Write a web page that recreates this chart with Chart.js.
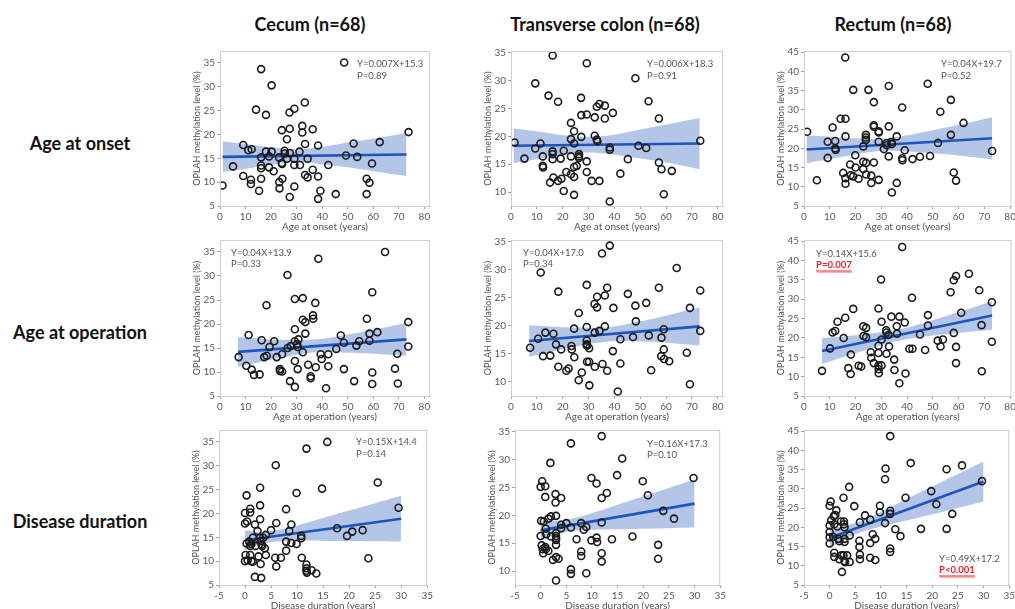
<!DOCTYPE html>
<html><head><meta charset="utf-8">
<script src="https://cdn.jsdelivr.net/npm/chart.js@4"></script>
<style>
body{margin:0;width:1015px;height:609px;background:#fff;position:relative;overflow:hidden;font-family:Lato,"Open Sans",sans-serif}
.t{position:absolute;font-weight:bold;font-size:18px;color:#111;white-space:nowrap;transform:translate(-50%,-50%)}
canvas{position:absolute}
</style></head><body>
<script>
// ---------- titles ----------
const colTitles = ['Cecum (n=68)', 'Transverse colon (n=68)', 'Rectum (n=68)'];
const rowTitles = ['Age at onset', 'Age at operation', 'Disease duration'];
const xTitles = ['Age at onset (years)', 'Age at operation (years)', 'Disease duration (years)'];
const yTitle = 'OPLAH methylation level (%)';

// ---------- tick labels ----------
const ageTicks = [0, 10, 20, 30, 40, 50, 60, 70, 80];
const durTicks = [-5, 0, 5, 10, 15, 20, 25, 30, 35];
const cecumTicks = [5, 10, 15, 20, 25, 30, 35];
const transTicks = [10, 15, 20, 25, 30, 35];
const rectumTicks = [5, 10, 15, 20, 25, 30, 35, 40, 45];

// ---------- Age at onset ----------
const onsetCecumX = [1,5.1,9.1,9.1,11.1,12.4,12.1,12.1,14.1,15.3,16.1,16.1,16.1,16.1,16.1,18,18,19.2,20.2,20.2,21,19.2,23.1,23.2,23.3,24.2,24.2,24.3,24.4,25.3,26.2,26.2,27.2,27.3,27.3,27.3,29.1,29.1,29.1,29.1,31.1,32.2,32.2,33.2,33.3,33.3,34.3,34.3,36.3,36.3,38.4,38.4,38.4,39.3,42.4,45.3,48.6,49.3,52.3,53.7,57.4,57.4,58.5,59.5,62.5,73.8,25.4,31.3];
const onsetCecumY = [9.3,13.3,17.8,11.3,16.7,16.9,10.5,9.6,25.2,8.2,33.7,15.2,13.5,12.9,10.7,24.1,16.4,15.4,30.3,16.4,12.3,13.1,15.2,10,8.7,20.9,14,13.8,10.7,16.6,19,14.9,24.6,21.2,16.1,6.9,25.4,14.9,13.6,9.1,16.4,21.8,20.4,26.7,18,11.5,14.9,11,21.1,12.6,17.7,11.2,6.5,8.2,13.6,7.5,35.1,15.6,18.1,15.3,10.7,7.5,9.9,13.9,18.4,20.5,16,13.6];
const onsetTransX = [1.4,5.2,9.4,9.4,11.4,12.3,12.3,12.4,14.5,15.1,16.1,16.1,16.1,16.4,18.2,18.2,19.2,19.5,20.4,20.4,21.4,23.2,23.2,23.2,23.2,24.4,24.4,24.4,24.4,24.4,25.4,26.3,26.3,27.1,27.2,27.2,29.3,29.3,29.3,29.3,31.2,32.4,32.4,33.2,33.2,33.4,34.2,34.2,36.3,36.3,38.2,38.2,38.2,39.4,42.3,45.2,48.1,49.3,52.3,53.2,57.2,57.2,58.2,59.1,62.2,73.2,26.3,16.1];
const onsetTransY = [18.9,16,29.5,17.8,18.7,16.4,14.7,14.4,27.3,11.7,34.5,16.8,15.9,12.6,26.2,12,16,12.4,17.4,10.2,13.6,22.4,19.5,16.4,13.2,20.9,18.7,14.5,12.7,9.5,14.7,16.8,16.4,26.9,23.8,19.9,33.1,23.9,15.5,13.6,12,23.4,20.1,25.3,19.4,19.1,25.8,12,25.5,23.2,18,17.6,8.3,24.2,13.3,15.9,30.4,18.3,17.9,26.3,23.2,15.3,14.1,9.6,13.8,19.2,16.1,17.3];
const onsetRectX = [1.2,5,9.2,9.2,11.1,12.1,12.1,12.3,14.2,15.2,16,16.1,16.1,16.1,16.1,17.9,18.1,19.1,19.1,19.9,20,21.2,23,23,23,24,24,24,24.1,24.1,25,26.1,26.1,27.1,27.1,27.1,27.1,29,29,29,29,31,32,32.1,32.9,32.9,32.9,34.1,34.1,36,36,38.1,38.1,38.2,39.1,42.1,45,48,48.9,52,52.9,57,57,58.1,59,61.9,73,33.9];
const onsetRectY = [24.3,11.7,21.7,17.5,25.4,21.9,20,19.6,27.7,13.6,43.6,27.7,23.1,12.2,10.8,15.8,13,35.2,12.7,18.2,15,12.1,20.5,16.5,14.6,23.5,22.8,22.2,16.2,13.2,35.2,12.9,11,32,26,25.6,16.3,24.4,24.1,21.7,11.8,19.8,21.3,20.8,36.2,25.7,17.9,21.1,8.5,23.1,11,30.6,17.4,16.9,19.5,17.2,17.8,36.8,18,21.4,29.5,32.6,23.5,13.7,11.6,26.6,19.3,21.6];

// ---------- Age at operation ----------
const operCecumX = [7.3,10.3,11.2,12.4,13.3,15.5,16.3,17.3,18.2,18.3,19.4,21.2,22.2,23.4,23.5,24.3,24.3,26.4,26.5,27.4,29.3,29.3,29.3,29.3,29.3,30.2,30.4,30.7,30.4,32.4,32.4,32.4,33.4,33.4,34.5,35.5,35.5,36.4,36.5,37.3,37.5,38.5,39.4,39.8,41.5,42.4,42.4,45.5,47.3,48.5,48.5,52.5,53.4,54.5,57.5,58.5,58.5,59.6,59.6,59.6,61.6,64.6,68.5,69.4,69.6,73.7,73.7,27.7];
const operCecumY = [13.1,11.3,17.7,10.5,9.4,9.5,16.6,13.1,23.9,13.4,15.2,16.4,13.1,10.6,10.2,10.1,13.7,30.2,15,8.1,25.2,18.9,16.4,12.3,6.9,15.8,15.2,16.8,10.6,25.4,20.9,14.1,20.4,18,11.5,9.1,8.7,21.8,21.1,24.4,11,33.6,13.7,12.7,6.6,13.7,11.2,14.8,17.6,16.1,10.6,8.1,15.5,16.4,21.1,18,16.5,26.6,9.9,7.5,18.3,35,10.7,13.8,7.6,20.4,15.3,15.4];
const operTransX = [7.4,10.5,11.5,12.4,13.3,15.2,16.4,17.4,18.3,18.3,19.4,21.4,22.3,23.4,23.5,24.4,24.5,26.2,26.2,27.4,29.3,29.3,29.3,29.3,29.5,29.4,30.2,30.2,30.3,32.3,32.4,32.4,33.3,33.3,34.2,35.2,35.4,36.3,36.3,37.2,37.2,38.2,39.4,39.6,41.3,42.3,42.3,45.2,47.2,48.1,48.3,52.3,53.3,54.2,57.2,58.2,58.1,59.1,59.1,59.2,61.2,64.1,68,69.2,69.2,73.2,73.2,29.3];
const operTransY = [16.1,17.7,29.5,14.6,18.8,14.7,18.6,16.7,26.1,12.7,15.8,12,12.4,16.4,15.8,19.5,14.4,22.3,10.3,11.7,27.3,19.8,17.4,16.7,16.5,13.6,13.6,16,9.4,23.9,18.8,12.7,25.2,23.3,19.1,32.9,13.2,25.4,19.9,26.8,12,34.3,15.5,23.2,8.3,17.6,13.3,25.7,18,23.6,20.8,24.1,18.3,12.1,26.8,17.9,14.6,19.4,15.8,14.1,13.7,30.3,15.2,23.2,9.6,26.3,19.1,16.5];
const operRectX = [7,10.1,11.1,12.1,13,15.4,16,17.2,18.2,18.1,19.1,21.2,22.2,23,23.1,24.1,24.1,25.9,26.1,27.1,28.9,28.9,28.9,28.9,29,29,29.9,30.1,30.1,30.1,31.9,32,32,32.8,33,33.9,35,35.1,36,36.1,37,37,38.1,39.1,39.4,40.9,42.1,41.9,45,47,48.1,48.1,51.9,53,53.9,56.9,58.1,58.1,59,59,59,61,64,68,68.9,69,72.9,72.9];
const operRectY = [11.5,17.3,21.4,21.8,24.2,20,25.2,12.2,15.7,10.7,27.5,12.8,12.6,23,20.5,22.6,20.2,16.3,14.9,13.5,27.6,16.1,18,12.9,11.9,10.9,35.1,24.2,19.6,12.9,22,21.4,15.9,20.8,17.8,25.5,14.4,11.7,23,21.1,25.5,8.3,43.5,24,10.8,17.2,17.2,30.4,20.9,16.9,25.9,23.2,19.3,17.8,19.6,31.8,34.9,21.3,36,17.7,13.5,26.5,36.6,32.3,23.3,11.4,29.2,19];

// ---------- Disease duration ----------
const durCecumX = [0,0,0,0.1,0.3,0.4,0.3,0.5,0.8,1,1,1,1,1.2,1.5,1.5,1.9,1.9,2,2.4,2.6,2.9,2.9,2.9,2.9,3,3,3.1,3.2,3.5,3.8,4,4,5,5.8,5.9,6,6,6.9,7.9,7.9,7.9,8.5,8.9,8.9,9.9,9.9,10.8,10.8,10.9,11.8,11.8,11.8,11.8,11.9,12.8,13.7,14.8,15.8,17.7,19.6,20.6,22.6,23.7,25.5,29.5,3.3,1.2];
const durCecumY = [10,20.1,17.9,11.3,23.8,18.3,13.7,10.2,14.1,21,20.2,13.2,11.3,10,14.9,9.9,17.7,6.7,13.2,16.3,11,25.4,21.7,18.8,14.9,14.2,9.4,6.5,13.5,14.9,12.7,11.3,15.5,16.5,10.7,30.1,18,8.9,10.7,20.9,14.1,12.2,16.3,17.7,13.8,24.3,13.6,15.3,14.8,10.7,33.6,9.3,8.5,8,7.6,8.1,7.4,25.2,35,16.9,15.3,16.2,16.5,10.6,26.5,21.2,13.2,13.6];
const durTransX = [0,0,0.1,0.3,0.2,0.4,0.5,0.9,0.9,1,0.9,1,1.1,1.5,1.5,1.9,2,2,2.4,2.9,2.9,3,3,3,3,3,3,3,3.5,4,4,4,5,5.9,5.9,5.9,5.9,7,7.9,7.9,7.9,8.4,8.9,8.9,9.9,9.9,10.9,10.9,11,11.9,11.9,11.9,11.9,11.9,12.9,13.9,14.9,15.9,17.9,19.9,20.9,22.9,22.9,23.9,26,29.8,3,0.6];
const durTransY = [16.3,25.1,19,26.1,14.6,13.9,13.2,25.2,23.3,17.6,14.3,13.9,16.6,13.6,19.4,29.4,19.8,16.2,12,23.8,22.3,19.9,16.8,16.3,15.9,14.7,12.5,8.3,12.2,23.1,18.3,17.7,18.6,32.9,17.8,10.3,9.5,15.7,18.6,13.5,12.7,17.4,17.9,9.6,26.7,15.5,25.7,16,15.2,34.2,23.1,18.7,13.2,11.7,24,15.7,27.2,30.2,16.2,26.1,23.6,14.7,12.2,20.8,19.4,26.7,15.6,18.9];
const durRectX = [0,0,0,0,0,0.2,0.3,0.7,0.8,0.9,0.9,0.9,1.1,1.3,1.5,1.7,1.9,1.9,2.2,2.3,2.4,2.7,2.7,2.8,2.8,2.9,2.9,2.9,2.9,3,3.4,3.8,3.9,3.9,4.8,5.8,5.8,5.9,5.9,5.9,6.9,7.9,7.9,7.9,8.4,8.9,8.9,9.8,9.8,10.8,10.9,10.8,11.8,11.8,11.8,11.8,11.8,12.8,13.8,14.8,15.8,17.8,19.8,20.8,22.8,22.8,23.9,25.8,29.7];
const durRectY = [20.5,18.8,25.6,17.4,15.8,26.7,21.8,17.5,22.9,20.8,13.4,12.3,23.2,24.4,20.2,17,16.4,11.7,21.5,12.7,8.4,12.7,27.7,21.5,20.8,20,17,16.2,11.2,10.9,12.7,30.5,17.9,11,25.5,16.5,14.9,12.9,11.7,21.3,23.1,22,15.9,12.1,18.2,17,11.5,25.6,23.9,32.5,35.3,21.1,43.7,24.3,23.5,14.5,13.6,19.5,17.7,27.7,36.7,19.6,29.4,26,35.1,19.6,23.5,36.1,32];

// ---------- fit lines (end points) ----------
const onsetFitX = [1, 73];
const onsetCecumFit = [15.3, 15.8];
const onsetTransFit = [18.3, 18.7];
const onsetRectFit = [19.7, 22.6];
const operFitX = [7, 73];
const operCecumFit = [14.2, 16.8];
const operTransFit = [17.3, 19.9];
const operRectFit = [16.6, 25.8];
const durFitX = [0, 30];
const durCecumFit = [14.4, 18.9];
const durTransFit = [17.3, 22.1];
const durRectFit = [17.2, 31.9];

// ---------- confidence bands ----------
const onsetBandX = [1, 10, 20, 30, 40, 50, 60, 73];
const onsetCecumHi = [18.5, 18.0, 17.3, 16.9, 17.4, 18.3, 19.1, 20.3];
const onsetCecumLo = [12.1, 12.8, 13.6, 14.2, 13.7, 13.1, 12.3, 11.3];
const onsetTransHi = [21.4, 20.9, 20.2, 19.9, 20.3, 21.2, 22.1, 23.3];
const onsetTransLo = [15.2, 15.9, 16.6, 17.1, 16.7, 16.0, 15.3, 14.1];
const onsetRectHi = [23.3, 23.0, 22.6, 22.5, 23.4, 24.7, 26.1, 28.1];
const onsetRectLo = [16.1, 17.2, 18.4, 19.3, 19.2, 18.7, 18.1, 17.1];
const operBandX = [7, 15, 25, 38, 50, 60, 73];
const operCecumHi = [17.3, 17.0, 16.7, 16.8, 17.8, 18.8, 20.2];
const operCecumLo = [11.1, 12.0, 13.1, 14.1, 14.0, 13.8, 13.4];
const operTransHi = [20.1, 19.9, 19.7, 19.8, 20.8, 21.8, 23.3];
const operTransLo = [14.5, 15.3, 16.3, 17.2, 17.2, 17.0, 16.5];
const operRectHi = [20.0, 20.4, 21.1, 22.4, 24.6, 26.7, 29.5];
const operRectLo = [13.2, 15.0, 17.1, 19.4, 20.6, 21.3, 22.1];
const durBandX = [0, 3, 6, 10, 15, 20, 25, 30];
const durCecumHi = [16.5, 16.15, 16.5, 17.5, 19.05, 20.6, 22.15, 23.7];
const durCecumLo = [12.3, 13.55, 14.1, 14.3, 14.25, 14.2, 14.15, 14.1];
const durTransHi = [19.1, 18.98, 19.36, 20.4, 21.9, 23.4, 24.9, 26.4];
const durTransLo = [15.5, 16.58, 17.16, 17.4, 17.5, 17.6, 17.7, 17.8];
const durRectHi = [19.8, 20.37, 21.64, 24.0, 27.35, 30.6, 33.85, 37.1];
const durRectLo = [14.6, 16.97, 18.64, 20.2, 21.75, 23.4, 25.05, 26.7];

// ---------- equation / P labels ----------
const equations = [['Y=0.007X+15.3','P=0.89'],['Y=0.006X+18.3','P=0.91'],['Y=0.04X+19.7','P=0.52'],
                   ['Y=0.04X+13.9','P=0.33'],['Y=0.04X+17.0','P=0.34'],['Y=0.14X+15.6','P=0.007'],
                   ['Y=0.15X+14.4','P=0.14'],['Y=0.16X+17.3','P=0.10'],['Y=0.49X+17.2','P<0.001']];
const significant = [false,false,false,false,false,true,false,false,true];

// ---------- layout (positions / styles) ----------
const rowTop = [51, 240, 430], rowBot = [206, 396, 585];
const colLeft = [[220,511,804],[220,511,804],[219,515,804]];
const colRight = [[430,723,1012],[430,723,1012],[429,722,1011]];
const xRange = [[[0,82.2],[0,82],[0,80.5]],[[0,82.2],[0,82],[0,80.5]],[[-5,35],[-5,35],[-5,35]]];
const yRange = [[5,37.5],[7.5,35.3],[5,45.3]];
const textPos = [[137,13],[136,13],[137,13],[11,12.5],[12,12.5],[12,13.5],[137,12],[132,13.5],[135,128.5]];
const colTitleX = [310, 605, 893];
const rowTitleY = [143, 332, 521];

const panelData = [
  [onsetCecumX,onsetCecumY,onsetFitX,onsetCecumFit,onsetBandX,onsetCecumHi,onsetCecumLo],
  [onsetTransX,onsetTransY,onsetFitX,onsetTransFit,onsetBandX,onsetTransHi,onsetTransLo],
  [onsetRectX,onsetRectY,onsetFitX,onsetRectFit,onsetBandX,onsetRectHi,onsetRectLo],
  [operCecumX,operCecumY,operFitX,operCecumFit,operBandX,operCecumHi,operCecumLo],
  [operTransX,operTransY,operFitX,operTransFit,operBandX,operTransHi,operTransLo],
  [operRectX,operRectY,operFitX,operRectFit,operBandX,operRectHi,operRectLo],
  [durCecumX,durCecumY,durFitX,durCecumFit,durBandX,durCecumHi,durCecumLo],
  [durTransX,durTransY,durFitX,durTransFit,durBandX,durTransHi,durTransLo],
  [durRectX,durRectY,durFitX,durRectFit,durBandX,durRectHi,durRectLo]
];
const yTickSets = [cecumTicks, transTicks, rectumTicks];

Chart.defaults.font.family = 'Lato, "Open Sans", sans-serif';
Chart.defaults.animation = false;

colTitles.forEach((t,i)=>{const d=document.createElement('div');d.className='t';d.textContent=t;d.style.left=colTitleX[i]+'px';d.style.top='24px';document.body.appendChild(d);});
rowTitles.forEach((t,i)=>{const d=document.createElement('div');d.className='t';d.textContent=t;d.style.left='80px';d.style.top=rowTitleY[i]+'px';document.body.appendChild(d);});

const zip = (a,b)=>a.slice(0,Math.min(a.length,b.length)).map((v,i)=>({x:v,y:b[i]}));
const PADL = 40, PADT = 8, PADR = 6, PADB = 30;

for (let r=0;r<3;r++) for (let c=0;c<3;c++) {
  const idx = r*3+c;
  const [px,py,fx,fy,bx,bh,bl] = panelData[idx];
  const L = colLeft[r][c], R = colRight[r][c], T = rowTop[r], B = rowBot[r];
  const cv = document.createElement('canvas');
  const W = R-L+PADL+PADR, H = B-T+PADT+PADB;
  cv.width = W; cv.height = H;
  cv.style.left = (L-PADL)+'px'; cv.style.top = (T-PADT)+'px';
  cv.style.width = W+'px'; cv.style.height = H+'px';
  document.body.appendChild(cv);
  const xt = r===2 ? durTicks : ageTicks;
  const yt = yTickSets[c];
  const tp = textPos[idx];
  const deco = {
    id:'deco'+idx,
    afterDraw(chart){
      const ctx = chart.ctx, a = chart.chartArea;
      ctx.save();
      ctx.strokeStyle = '#cfcfcf'; ctx.lineWidth = 1;
      ctx.strokeRect(a.left+0.5, a.top+0.5, a.right-a.left-1, a.bottom-a.top);
      ctx.fillStyle = '#555';
      ctx.font = '10px Lato, "Open Sans", sans-serif';
      ctx.textAlign = 'center'; ctx.textBaseline = 'middle';
      ctx.fillText(xTitles[r], (a.left+a.right)/2, a.bottom+21);
      ctx.save();
      ctx.translate(a.left-23, (a.top+a.bottom)/2);
      ctx.rotate(-Math.PI/2);
      ctx.font = '9px Lato, "Open Sans", sans-serif';
      ctx.fillText(yTitle, 0, 0);
      ctx.restore();
      ctx.textAlign = 'left';
      ctx.font = '9.5px Lato, "Open Sans", sans-serif';
      ctx.fillStyle = '#555';
      const ex = a.left+tp[0], ey = a.top+tp[1];
      ctx.fillText(equations[idx][0], ex, ey);
      if (significant[idx]) {
        ctx.fillStyle = '#ee1c24';
        ctx.font = 'bold 9.5px Lato, "Open Sans", sans-serif';
        ctx.fillText(equations[idx][1], ex, ey+11.5);
        const w = ctx.measureText(equations[idx][1]).width;
        ctx.strokeStyle = '#ee1c24'; ctx.lineWidth = 1;
        ctx.beginPath(); ctx.moveTo(ex, ey+17.5); ctx.lineTo(ex+w, ey+17.5); ctx.stroke();
        ctx.strokeStyle = 'rgba(238,28,36,0.35)';
        ctx.beginPath(); ctx.moveTo(ex+1, ey+19); ctx.lineTo(ex+w+1, ey+19); ctx.stroke();
      } else {
        ctx.fillText(equations[idx][1], ex, ey+11.5);
      }
      ctx.restore();
    }
  };
  new Chart(cv, {
    type:'scatter',
    data:{datasets:[
      {type:'scatter', data:zip(px,py), pointStyle:'circle', pointRadius:3.5, pointHoverRadius:3.5,
       borderColor:'#1a1a1a', borderWidth:1.6, backgroundColor:'rgba(0,0,0,0)'},
      {type:'line', data:zip(fx,fy), borderColor:'#1c55bd', borderWidth:2.6, pointRadius:0, fill:false},
      {type:'line', data:zip(bx,bh), borderWidth:0, borderColor:'rgba(0,0,0,0)', pointRadius:0, tension:0.4,
       fill:'+1', backgroundColor:'#b4c6e8'},
      {type:'line', data:zip(bx,bl), borderWidth:0, borderColor:'rgba(0,0,0,0)', pointRadius:0, tension:0.4, fill:false}
    ]},
    options:{
      responsive:false, animation:false, events:[],
      layout:{padding:{left:0, top:PADT, right:PADR, bottom:0}},
      plugins:{legend:{display:false}, tooltip:{enabled:false}},
      scales:{
        x:{type:'linear', min:xRange[r][c][0], max:xRange[r][c][1],
           afterBuildTicks:s=>{s.ticks = xt.map(v=>({value:v}));},
           afterFit:s=>{s.height = PADB;},
           grid:{drawOnChartArea:false, drawTicks:true, tickLength:3, color:'#a0a0a0'},
           border:{display:true, color:'#c4c4c4'},
           ticks:{font:{size:10}, color:'#5a5a5a', padding:2, maxRotation:0, autoSkip:false}},
        y:{type:'linear', min:yRange[c][0], max:yRange[c][1],
           afterBuildTicks:s=>{s.ticks = yt.map(v=>({value:v}));},
           afterFit:s=>{s.width = PADL;},
           grid:{drawOnChartArea:false, drawTicks:true, tickLength:3, color:'#a0a0a0'},
           border:{display:true, color:'#c4c4c4'},
           ticks:{font:{size:10}, color:'#5a5a5a', padding:2, autoSkip:false}}
      }
    },
    plugins:[deco]
  });
}
</script>
</body></html>
